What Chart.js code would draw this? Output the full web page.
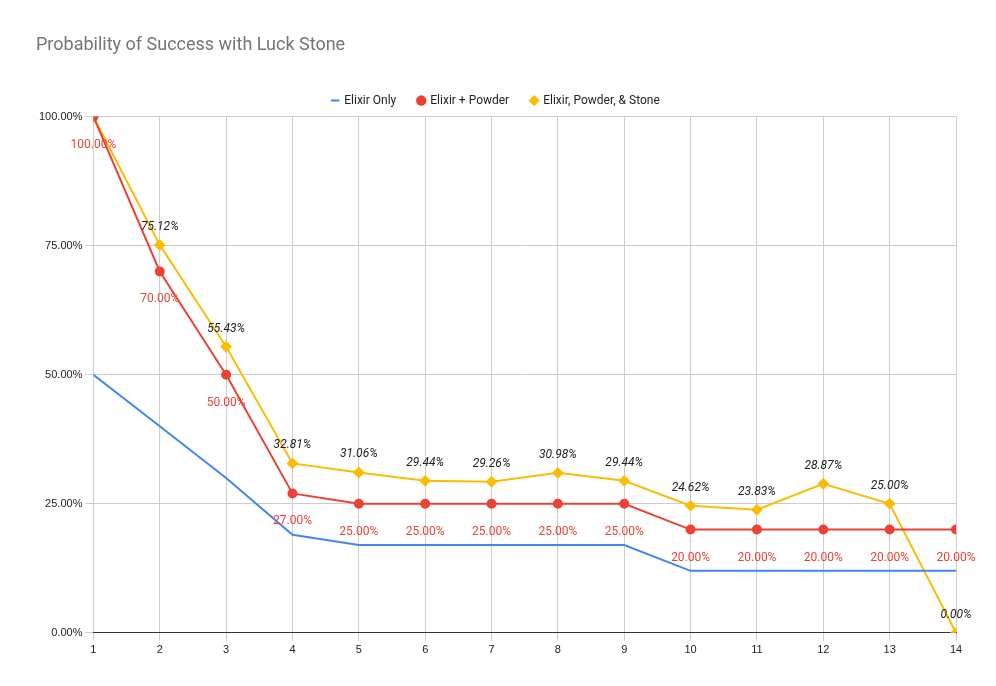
<!DOCTYPE html>
<html lang="en">
<head>
  <meta charset="UTF-8">
  <title>Probability of Success with Luck Stone</title>
  <script src="https://cdn.jsdelivr.net/npm/chart.js"></script>
  <style>
    body { margin: 0; background: #fff; }
    #wrap { width: 996px; height: 686px; }
  </style>
</head>
<body>
  <div id="wrap"><canvas id="chart"></canvas></div>
  <script>
    // Chart data
    const levels = [1, 2, 3, 4, 5, 6, 7, 8, 9, 10, 11, 12, 13, 14];
    const elixirOnly = [50, 40, 30, 19, 17, 17, 17, 17, 17, 12, 12, 12, 12, 12];
    const elixirPowder = [100, 70, 50, 27, 25, 25, 25, 25, 25, 20, 20, 20, 20, 20];
    const elixirPowderStone = [100, 75.12, 55.43, 32.81, 31.06, 29.44, 29.26, 30.98, 29.44, 24.62, 23.83, 28.87, 25.00, 0.00];
    const yTicks = [0, 25, 50, 75, 100];

    const toPoints = arr => arr.map((v, i) => ({ x: levels[i], y: v }));

    // draws the value labels (red below, italic black above)
    const valueLabels = {
      id: 'valueLabels',
      afterDatasetsDraw(chart) {
        const ctx = chart.ctx;
        ctx.save();
        ctx.textAlign = 'center';
        chart.getDatasetMeta(1).data.forEach((pt, i) => {
          ctx.font = '12px Roboto, Arial, sans-serif';
          ctx.fillStyle = '#ea4335';
          ctx.fillText(elixirPowder[i].toFixed(2) + '%', pt.x, pt.y + 28);
        });
        chart.getDatasetMeta(2).data.forEach((pt, i) => {
          ctx.font = 'italic 12px Roboto, Arial, sans-serif';
          ctx.fillStyle = '#222';
          if (i === 0) return;
          ctx.fillText(elixirPowderStone[i].toFixed(2) + '%', pt.x, pt.y - 18);
        });
        ctx.restore();
      }
    };

    new Chart(document.getElementById('chart'), {
      type: 'line',
      data: {
        datasets: [
          { label: 'Elixir Only', data: toPoints(elixirOnly), borderColor: '#4285f4', backgroundColor: '#4285f4',
            borderWidth: 2, pointRadius: 0, pointStyle: 'line' },
          { label: 'Elixir + Powder', data: toPoints(elixirPowder), borderColor: '#ea4335', backgroundColor: '#ea4335',
            borderWidth: 2, pointRadius: 4, pointStyle: 'circle' },
          { label: 'Elixir, Powder, & Stone', data: toPoints(elixirPowderStone), borderColor: '#fbbc04', backgroundColor: '#fbbc04',
            borderWidth: 2, pointRadius: 4.5, pointStyle: 'rectRot' }
        ]
      },
      options: {
        responsive: true,
        maintainAspectRatio: false,
        animation: false,
        layout: { padding: { left: 36, right: 40, top: 15, bottom: 26 } },
        plugins: {
          title: { display: true, text: 'Probability of Success with Luck Stone', align: 'start',
            color: '#757575', font: { size: 18, family: 'Roboto, Arial, sans-serif', weight: 'normal' },
            padding: { top: 20, bottom: 16 } },
          legend: { labels: { usePointStyle: true, boxWidth: 6, boxHeight: 6, color: '#222',
            font: { size: 12, family: 'Roboto, Arial, sans-serif' }, padding: 22 } },
          tooltip: { enabled: false }
        },
        scales: {
          x: { type: 'linear', min: 1, max: 14,
            ticks: { stepSize: 1, color: '#222', font: { size: 11 } },
            grid: { color: '#cccccc' }, border: { color: '#333' } },
          y: { min: 0, max: 100, afterBuildTicks: s => { s.ticks = yTicks.map(v => ({ value: v })); },
            ticks: { color: '#222', font: { size: 11 }, callback: v => v.toFixed(2) + '%' },
            grid: { color: '#cccccc' }, border: { display: false } }
        }
      },
      plugins: [valueLabels]
    });
  </script>
</body>
</html>
